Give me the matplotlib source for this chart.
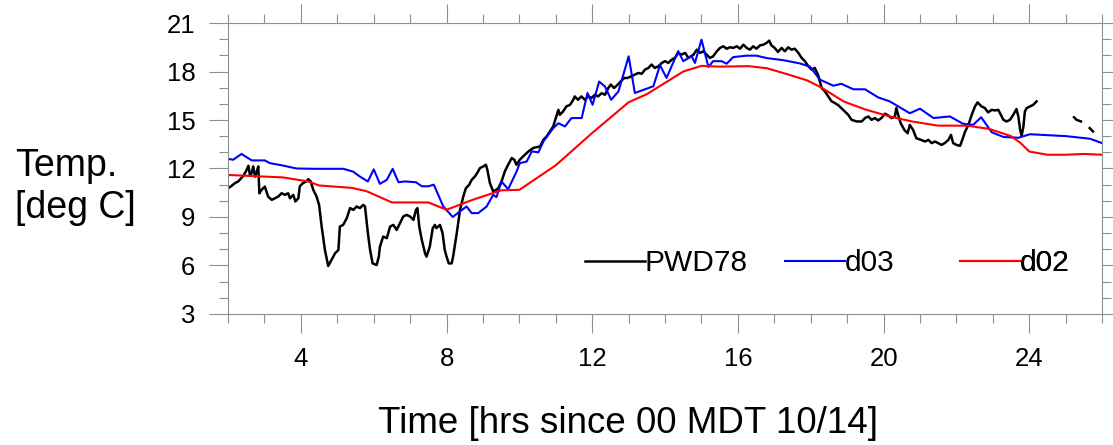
import matplotlib
matplotlib.use("Agg")
import matplotlib.pyplot as plt
from matplotlib.ticker import MultipleLocator
import numpy as np

plt.rcParams['font.family'] = ['Liberation Sans', 'DejaVu Sans']

# observed (PWD78), gaps as nan
pwd_t = [2.0, 2.1, 2.19, 2.28, 2.36, 2.42, 2.49, 2.56, 2.6, 2.65, 2.69, 2.74, 2.79, 2.83, 2.86, 2.92,
         3.01, 3.1, 3.2, 3.29, 3.38, 3.47, 3.56, 3.65, 3.7, 3.79, 3.85, 3.93, 3.97, 4.06, 4.15, 4.2,
         4.27, 4.34, 4.43, 4.5, 4.57, 4.66, 4.75, 4.84, 4.94, 5.03, 5.07, 5.16, 5.26, 5.35, 5.44, 5.53,
         5.62, 5.71, 5.76, 5.84, 5.9, 5.97, 6.08, 6.14, 6.17, 6.26, 6.36, 6.45, 6.54, 6.63, 6.72, 6.81,
         6.9, 7.0, 7.09, 7.16, 7.2, 7.25, 7.32, 7.41, 7.45, 7.54, 7.62, 7.68, 7.72, 7.82, 7.89, 7.95,
         8.0, 8.06, 8.14, 8.18, 8.28, 8.37, 8.46, 8.53, 8.62, 8.69, 8.78, 8.84, 8.92, 9.01, 9.08, 9.12,
         9.19, 9.28, 9.36, 9.42, 9.51, 9.6, 9.69, 9.79, 9.86, 9.92, 10.01, 10.15, 10.25, 10.38, 10.57, 10.66,
         10.75, 10.84, 10.93, 11.0, 11.07, 11.11, 11.2, 11.29, 11.39, 11.48, 11.52, 11.61, 11.7, 11.8, 11.89, 11.98,
         12.07, 12.16, 12.26, 12.35, 12.44, 12.51, 12.6, 12.7, 12.79, 12.88, 12.97, 13.08, 13.17, 13.27, 13.36, 13.45,
         13.54, 13.63, 13.72, 13.82, 13.91, 14.0, 14.09, 14.18, 14.27, 14.36, 14.45, 14.55, 14.64, 14.78, 14.87, 14.96,
         15.05, 15.14, 15.23, 15.32, 15.42, 15.51, 15.6, 15.69, 15.78, 15.87, 15.97, 16.06, 16.15, 16.24, 16.33, 16.42,
         16.51, 16.61, 16.7, 16.79, 16.86, 16.92, 17.01, 17.1, 17.2, 17.29, 17.38, 17.47, 17.56, 17.66, 17.75, 17.84,
         17.93, 18.02, 18.11, 18.2, 18.3, 18.39, 18.48, 18.57, 18.66, 18.76, 18.89, 19.03, 19.12, 19.26, 19.4, 19.49,
         19.58, 19.67, 19.76, 19.85, 19.94, 20.04, 20.13, 20.22, 20.31, 20.35, 20.4, 20.47, 20.57, 20.66, 20.72, 20.81,
         20.9, 21.03, 21.14, 21.23, 21.32, 21.41, 21.5, 21.59, 21.68, 21.78, 21.85, 21.91, 22.0, 22.1, 22.16, 22.24,
         22.33, 22.42, 22.51, 22.58, 22.69, 22.78, 22.87, 22.97, 23.06, 23.15, 23.29, 23.38, 23.47, 23.56, 23.65, 23.7,
         23.75, 23.79, 23.84, 23.88, 23.93, 24.02, 24.11, 24.2, 24.7, 25.23, 25.3, 25.42, 25.55, 25.66, 25.75]
pwd_temp = [10.78, 10.93, 11.1, 11.2, 11.4, 11.55, 11.82, 12.17, 11.6, 11.72, 12.13, 11.5, 11.82, 12.13, 10.46, 10.68,
            10.88, 10.26, 10.06, 10.16, 10.27, 10.47, 10.37, 10.47, 10.16, 10.37, 9.96, 10.16, 10.9, 11.1, 11.2, 11.34,
            11.2, 10.68, 10.27, 9.75, 8.41, 6.96, 5.97, 6.34, 6.76, 6.96, 8.41, 8.51, 8.93, 9.55, 9.44, 9.65,
            9.55, 9.75, 9.65, 8.0, 6.96, 6.13, 6.03, 6.55, 7.17, 7.79, 7.69, 8.41, 8.51, 8.2, 8.62, 9.03,
            9.13, 9.03, 8.82, 9.44, 9.55, 8.41, 7.58, 6.75, 6.55, 7.17, 8.31, 8.51, 8.31, 8.51, 8.0, 6.96,
            6.55, 6.13, 6.13, 6.55, 8.0, 9.44, 10.27, 10.78, 10.99, 11.3, 11.51, 11.72, 12.03, 12.13, 12.23, 11.92,
            11.1, 10.58, 10.68, 10.78, 11.2, 11.82, 12.23, 12.65, 12.54, 12.23, 12.54, 12.85, 13.06, 13.27, 13.37, 13.78,
            13.99, 14.3, 14.61, 15.12, 15.63, 15.32, 15.53, 15.84, 15.94, 16.25, 16.46, 16.25, 16.46, 16.25, 16.46, 16.36,
            16.56, 16.46, 16.66, 16.56, 16.98, 17.19, 16.98, 17.19, 17.4, 17.6, 17.6, 17.71, 17.81, 17.91, 17.86, 18.12,
            18.22, 18.43, 18.22, 18.33, 18.53, 18.64, 18.53, 18.73, 18.84, 19.15, 19.04, 19.15, 18.84, 19.04, 19.35, 19.15,
            19.25, 19.04, 18.84, 18.94, 19.25, 19.46, 19.56, 19.41, 19.5, 19.46, 19.56, 19.41, 19.66, 19.46, 19.35, 19.56,
            19.41, 19.62, 19.66, 19.77, 19.91, 19.62, 19.46, 19.21, 19.46, 19.25, 19.5, 19.35, 19.41, 19.15, 18.84, 18.64,
            18.33, 18.12, 18.22, 17.8, 16.98, 16.77, 16.47, 16.16, 16.05, 15.91, 15.63, 15.32, 15.01, 14.91, 14.91, 15.12,
            15.22, 15.01, 15.12, 14.97, 15.12, 15.39, 15.27, 15.12, 15.22, 15.74, 15.32, 14.8, 14.39, 14.18, 14.7, 14.39,
            13.87, 13.77, 13.67, 13.77, 13.57, 13.67, 13.57, 13.46, 13.57, 13.77, 14.08, 13.57, 13.46, 13.4, 13.77, 14.29,
            14.7, 15.32, 15.84, 16.09, 15.84, 15.74, 15.47, 15.63, 15.59, 15.63, 15.01, 14.91, 15.01, 15.32, 15.68, 15.22,
            14.39, 14.02, 14.6, 15.53, 15.74, 15.84, 15.94, 16.15, np.nan, 15.17, 15.01, 14.91, np.nan, 14.5, 14.29]

# model d03
d03_t = [2.0, 2.14, 2.37, 2.65, 3.01, 3.15, 3.47, 3.88, 4.43, 5.17, 5.44, 5.62, 5.84, 6.0, 6.17, 6.36,
         6.52, 6.68, 6.86, 7.16, 7.32, 7.5, 7.65, 7.91, 8.17, 8.37, 8.55, 8.69, 8.87, 9.1, 9.28, 9.37,
         9.51, 9.69, 9.92, 10.01, 10.2, 10.34, 10.52, 10.66, 10.93, 11.07, 11.25, 11.43, 11.71, 11.87, 12.01, 12.19,
         12.35, 12.52, 12.72, 13.0, 13.17, 13.68, 13.86, 14.04, 14.36, 14.5, 14.73, 14.82, 15.0, 15.19, 15.32, 15.55,
         15.69, 15.87, 16.24, 16.51, 16.79, 17.25, 17.7, 17.98, 18.25, 18.62, 18.84, 19.17, 19.49, 19.85, 20.17, 20.72,
         21.0, 21.37, 21.82, 22.18, 22.46, 22.68, 22.97, 23.29, 23.7, 24.02, 25.02, 25.67, 26.0]
d03_temp = [12.6, 12.54, 12.9, 12.5, 12.5, 12.33, 12.2, 12.0, 11.98, 11.98, 11.8, 11.5, 11.2, 11.95, 11.05, 11.3,
            11.98, 11.15, 11.2, 11.15, 10.9, 10.9, 11.0, 9.65, 9.0, 9.35, 9.65, 9.24, 9.24, 9.65, 10.37, 10.23,
            11.2, 10.72, 11.8, 12.33, 12.43, 13.06, 13.0, 13.68, 14.5, 14.8, 14.6, 15.12, 15.12, 16.67, 15.94, 17.38,
            17.07, 16.25, 16.77, 18.94, 16.67, 17.09, 18.4, 17.6, 19.26, 18.64, 18.95, 18.53, 19.97, 18.28, 18.64, 18.64,
            18.48, 18.89, 18.98, 18.98, 18.83, 18.7, 18.5, 18.3, 17.5, 17.12, 17.24, 16.9, 16.9, 16.4, 16.15, 15.42,
            15.7, 15.12, 15.22, 14.77, 14.7, 15.17, 14.24, 13.95, 13.9, 14.12, 14.0, 13.84, 13.57]

# model d02
d02_t = [2.0, 3.5, 4.2, 4.5, 5.4, 5.8, 6.5, 7.5, 8.0, 8.7, 9.5, 10.0, 11.0, 12.0, 13.0, 13.5,
         14.0, 14.5, 15.0, 15.5, 16.3, 16.8, 17.4, 17.9, 18.3, 18.9, 19.5, 20.2, 20.8, 21.5, 22.3, 22.9,
         23.5, 23.75, 24.0, 24.5, 25.0, 25.5, 26.0]
d02_temp = [11.6, 11.45, 11.2, 10.95, 10.8, 10.6, 9.9, 9.9, 9.45, 10.05, 10.65, 10.68, 12.2, 14.2, 16.1, 16.6,
            17.3, 18.0, 18.35, 18.3, 18.33, 18.2, 17.8, 17.45, 17.0, 16.15, 15.65, 15.2, 14.9, 14.65, 14.65, 14.45,
            14.0, 13.6, 13.05, 12.85, 12.85, 12.9, 12.85]

fig = plt.figure(figsize=(11.13, 4.45), dpi=100)
ax = fig.add_axes([0.2049, 0.2944, 0.7853, 0.6539])

l1, = ax.plot(pwd_t, pwd_temp, color='black', lw=1.8)
l2, = ax.plot(d03_t, d03_temp, color='#0000ff', lw=1.5)
l3, = ax.plot(d02_t, d02_temp, color='#ff0000', lw=1.5)

ax.set_xlim(2, 26)
ax.set_ylim(3, 21)
ax.xaxis.set_major_locator(MultipleLocator(4))
ax.xaxis.set_minor_locator(MultipleLocator(1))
ax.yaxis.set_major_locator(MultipleLocator(3))
ax.yaxis.set_minor_locator(MultipleLocator(1))

grey = '#8f8f8f'
for s in ax.spines.values():
    s.set_color(grey)
    s.set_linewidth(0.8)
ax.tick_params(which='both', direction='out', top=True, right=True, color=grey, width=0.8)
ax.tick_params(which='major', length=13.5, pad=10, labelsize=18.5)
ax.tick_params(which='minor', length=6.5)

# separate legend entries, as in the original
for line, name, xa in [(l1, 'PWD78', 0.4085), (l2, 'd03', 0.637), (l3, 'd02', 0.8375)]:
    lg = ax.legend([line], [name], loc='center left', bbox_to_anchor=(xa, 0.175),
                   frameon=False, fontsize=21.5, handlelength=2.0, handletextpad=0,
                   borderpad=0, borderaxespad=0)
    ax.add_artist(lg)

fig.text(15 / 1113, 0.58, 'Temp.\n[deg C]', ha='left', va='center', fontsize=27, linespacing=1.2)
fig.text(628 / 1113, 0.026, 'Time [hrs since 00 MDT 10/14]', ha='center', va='baseline', fontsize=26.5)

fig.savefig('out.png', dpi=100)
